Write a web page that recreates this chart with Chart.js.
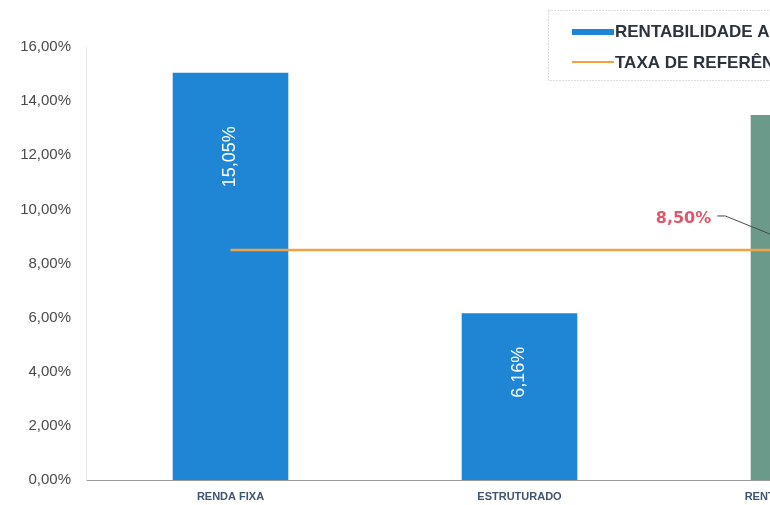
<!DOCTYPE html>
<html>
<head>
<meta charset="utf-8">
<script src="https://cdn.jsdelivr.net/npm/chart.js@4.4.1/dist/chart.umd.min.js"></script>
<style>
    html, body {
        margin: 0;
        padding: 0;
        background: #ffffff;
        overflow: hidden;
    }
    #wrap {
        width: 770px;
        height: 505px;
        overflow: hidden;
    }
</style>
</head>
<body>
<div id="wrap">
    <canvas id="chartRentabilidade" width="970" height="505"></canvas>
</div>
<script>
    // dados
    const categories = ['RENDA FIXA', 'ESTRUTURADO', 'RENTABILIDADE TOTAL'];
    const rentabilidade = [15.05, 6.16, 13.49];
    const taxaReferencia = [8.5, 8.5, 8.5];
    const seriesNames = ['RENTABILIDADE ACUMULADA', 'TAXA DE REFERÊNCIA'];
    const yMin = 0;
    const yMax = 16;
    const yStep = 2;

    const blue = '#1f85d5';
    const teal = '#6c9a8a';
    const orange = '#f2a444';

    function fmt(v) {
        return v.toFixed(2).replace('.', ',') + '%';
    }

    // rotulos dentro das barras
    const barLabels = {
        id: 'barLabels',
        afterDatasetsDraw(chart, args, opts) {
            const ctx = chart.ctx;
            const meta = chart.getDatasetMeta(0);
            meta.data.forEach((bar, i) => {
                ctx.save();
                ctx.translate(bar.x, bar.y + opts.offsets[i]);
                ctx.rotate(-Math.PI / 2);
                ctx.fillStyle = '#ffffff';
                ctx.font = '18px "Liberation Sans", Arial, sans-serif';
                ctx.textAlign = 'center';
                ctx.textBaseline = 'middle';
                ctx.fillText(fmt(chart.data.datasets[0].data[i]), 0, 0);
                ctx.restore();
            });
        }
    };

    // rotulo da taxa de referencia com linha guia
    const lineLabel = {
        id: 'lineLabel',
        afterDatasetsDraw(chart) {
            const ctx = chart.ctx;
            const meta = chart.getDatasetMeta(1);
            const last = meta.data.length - 1;
            const pt = meta.data[last];
            const text = fmt(chart.data.datasets[1].data[last]);
            const tx = pt.x - 125;
            const ty = pt.y - 31;
            ctx.save();
            ctx.font = 'bold 16px "DejaVu Sans", sans-serif';
            ctx.fillStyle = '#e2566b';
            ctx.textAlign = 'center';
            ctx.textBaseline = 'middle';
            ctx.fillText(text, tx, ty);
            const w = ctx.measureText(text).width;
            ctx.strokeStyle = '#404a50';
            ctx.lineWidth = 1;
            ctx.beginPath();
            ctx.moveTo(tx + w / 2 + 6, ty - 3);
            ctx.lineTo(tx + w / 2 + 14, ty - 3);
            ctx.lineTo(pt.x - 4, pt.y - 2);
            ctx.stroke();
            ctx.restore();
        }
    };

    // legenda em caixa pontilhada
    const boxLegend = {
        id: 'boxLegend',
        afterDraw(chart, args, opts) {
            const ctx = chart.ctx;
            const x0 = opts.x;
            const y0 = opts.y;
            ctx.save();
            ctx.strokeStyle = '#b8b8b8';
            ctx.lineWidth = 1;
            ctx.setLineDash([1, 2]);
            ctx.strokeRect(x0 + 0.5, y0 + 0.5, 400, 70);
            ctx.setLineDash([]);

            ctx.fillStyle = blue;
            ctx.fillRect(x0 + 24, y0 + 19, 42, 6);
            ctx.strokeStyle = orange;
            ctx.lineWidth = 2;
            ctx.beginPath();
            ctx.moveTo(x0 + 24, y0 + 52);
            ctx.lineTo(x0 + 66, y0 + 52);
            ctx.stroke();

            ctx.fillStyle = '#2b333d';
            ctx.font = 'bold 17px "Liberation Sans", Arial, sans-serif';
            ctx.textBaseline = 'middle';
            ctx.fillText(chart.data.datasets[0].label, x0 + 67, y0 + 22);
            ctx.fillText(chart.data.datasets[1].label, x0 + 67, y0 + 53);
            ctx.restore();
        }
    };

    const config = {
        type: 'bar',
        data: {
            labels: categories,
            datasets: [{
                type: 'bar',
                label: seriesNames[0],
                data: rentabilidade,
                backgroundColor: [blue, blue, teal],
                categoryPercentage: 0.8,
                barPercentage: 0.5,
                order: 2
            }, {
                type: 'line',
                label: seriesNames[1],
                data: taxaReferencia,
                borderColor: orange,
                borderWidth: 2.5,
                pointRadius: 0,
                order: 1
            }]
        },
        options: {
            responsive: false,
            animation: false,
            layout: {
                padding: {top: 47, left: 0, right: 17, bottom: 0}
            },
            scales: {
                x: {
                    grid: {display: false, drawTicks: false},
                    border: {display: true, color: '#9a9a9a', width: 1},
                    ticks: {
                        color: '#3f5470',
                        padding: 10,
                        font: {family: '"Liberation Sans", Arial, sans-serif', size: 11, weight: 'bold'}
                    },
                    afterFit: (scale) => {
                        scale.height = 25;
                    }
                },
                y: {
                    min: yMin,
                    max: yMax,
                    grid: {display: false, drawTicks: false},
                    border: {display: true, color: '#e4e4e4', width: 1},
                    ticks: {
                        stepSize: yStep,
                        color: '#4a4a4a',
                        padding: 15,
                        font: {family: '"Liberation Sans", Arial, sans-serif', size: 15},
                        callback: (v) => fmt(v)
                    },
                    afterFit: (scale) => {
                        scale.width = 86;
                    }
                }
            },
            plugins: {
                legend: {display: false},
                tooltip: {enabled: false},
                barLabels: {offsets: [84, 59, 70]},
                boxLegend: {x: 548, y: 10}
            }
        },
        plugins: [barLabels, lineLabel, boxLegend]
    };

    new Chart(document.getElementById('chartRentabilidade'), config);
</script>
</body>
</html>
